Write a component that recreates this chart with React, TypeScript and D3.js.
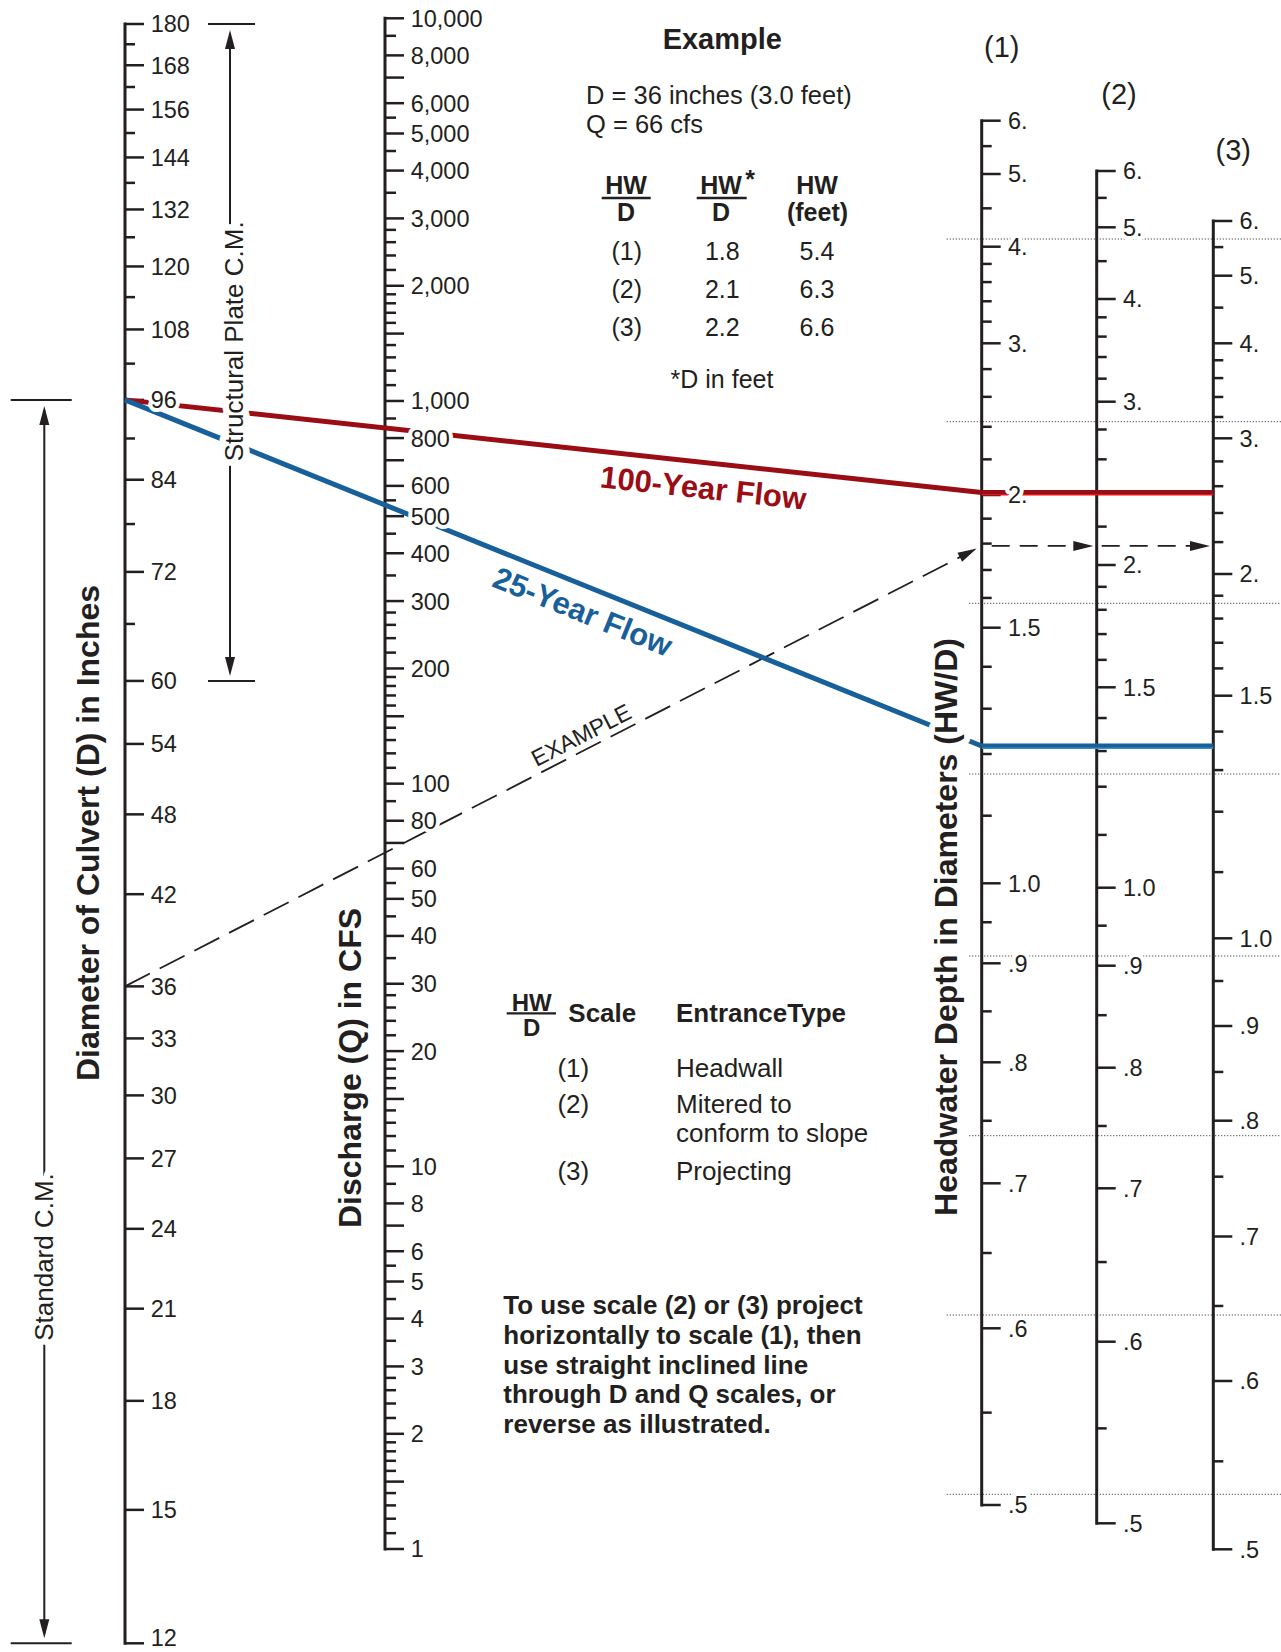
import React from "react";
import * as d3 from "d3";

// diameter of culvert (inches)
const diameterLabels = [180, 168, 156, 144, 132, 120, 108, 96, 84, 72, 60, 54, 48, 42, 36, 33, 30, 27, 24, 21, 18, 15, 12];
const diameterMinor = [174, 162, 150, 138, 126, 114, 102, 90, 78, 66];

// discharge (cfs)
const dischargeLabels = [10000, 8000, 6000, 5000, 4000, 3000, 2000, 1000, 800, 600, 500, 400, 300, 200, 100, 80, 60, 50, 40, 30, 20, 10, 8, 6, 5, 4, 3, 2, 1];
const dischargeLong = [7000, 1500, 700, 150, 70, 15, 7, 1.5];
const dischargeMinorSteps = [1.1, 1.2, 1.3, 1.4, 1.6, 1.7, 1.8, 1.9, 2.2, 2.4, 2.6, 2.8, 3.5, 4.5, 5.5, 9];
const decades = [1, 10, 100, 1000];

// headwater depth HW/D scales
const hwLabels = [6, 5, 4, 3, 2, 1.5, 1.0, 0.9, 0.8, 0.7, 0.6, 0.5];
const hwLabelText = ["6.", "5.", "4.", "3.", "2.", "1.5", "1.0", ".9", ".8", ".7", ".6", ".5"];
const hwMinor = [5.5, 4.5, 3.8, 3.6, 3.4, 3.2, 2.8, 2.6, 2.4, 2.2, 1.9, 1.8, 1.7, 1.6, 1.4, 1.3, 1.2, 1.1, 0.95, 0.85, 0.75, 0.65, 0.55];
const hwScaleNames = ["(1)", "(2)", "(3)"];

// design flows through D = 96 in
const flowNames = ["100-Year Flow", "25-Year Flow"];
const flowDiameter = 96;
const flowDischarge = [850, 535];
const flowColors = ["#9b0d14", "#17609a"];
const flowLight = ["#e0151d", "#3b8fd0"];

// worked example
const exampleD = 36;
const exampleQ = 66;
const exampleRows = ["(1)", "(2)", "(3)"];
const exampleHWD = ["1.8", "2.1", "2.2"];
const exampleHWfeet = ["5.4", "6.3", "6.6"];
const entranceRows = ["(1)", "(2)", "(3)"];
const entranceTypes = [["Headwall"], ["Mitered to", "conform to slope"], ["Projecting"]];
const instructions = [
  "To use scale (2) or (3) project",
  "horizontally to scale (1), then",
  "use straight inclined line",
  "through D and Q scales, or",
  "reverse as illustrated.",
];

// layout
const W = 1281, H = 1652;
const dX = 125, qX = 385;
const hwX = [981.7, 1096.7, 1213.3];
// calibration of the nomograph HW/D scales
const hwCalValues = [6, 5, 4, 3, 2, 1.5, 1.2, 1, 0.9, 0.8, 0.7, 0.6, 0.5];
const hwCalY = [
  [120.7, 174, 246.7, 343.3, 495, 627.7, 754, 883.3, 963.3, 1062.3, 1183.3, 1328.3, 1505],
  [171, 227.3, 299, 401.7, 565, 687.3, 786.7, 887.7, 965.7, 1067.7, 1188.3, 1341.7, 1523.3],
  [221, 275.7, 343.3, 438.3, 574, 695.7, 811.7, 938.3, 1026, 1120.7, 1236.5, 1381, 1549.3],
];
const guideY = [239, 421.7, 603.3, 774, 956, 1135.7, 1315, 1494.3];
const guideX0 = [946.7, 946.7, 969, 969, 969, 969, 946.7, 946.7];

const FONT = "'Liberation Sans', Arial, Helvetica, sans-serif";
const INK = "#231f20";
const TICK_FS = 23.5;

const yD = d3.scaleLog().domain([12, 180]).range([1643.3, 24]);
const yQ = d3.scaleLog().domain([1, 10000]).range([1549, 18.3]);
const yHW = hwCalY.map(r => d3.scaleLog().domain(hwCalValues).range(r));

const fmtQ = d3.format(",");

const arrowHead = (tx: number, ty: number, ux: number, uy: number, len = 18, hw = 5) => {
  const bx = tx - ux * len, by = ty - uy * len;
  return `M${tx},${ty}L${bx - uy * hw},${by + ux * hw}L${bx + uy * hw},${by - ux * hw}Z`;
};

// straight line through D and Q scales, extended to HW/D scale (1)
const turningLine = (d: number, q: number) => {
  const y0 = yD(d);
  const k = (yQ(q) - y0) / (qX - dX);
  return { y0, k, at: (x: number) => y0 + k * (x - dX) };
};

const halo = (w: number) => ({
  stroke: "#fff",
  strokeWidth: w,
  strokeLinejoin: "round" as const,
  style: { paintOrder: "stroke" as const },
});

// baseline for a label centred on a tick, kept inside the page
const labelY = (y: number) => Math.min(y + 0.36 * TICK_FS, H - 6);

const LineLabel = ({ text, line, bx, off, size, color }: any) => {
  const ang = Math.atan(line.k);
  const px = bx - Math.sin(ang) * off;
  const py = line.at(bx) + Math.cos(ang) * off;
  return (
    <text transform={`translate(${px},${py}) rotate(${(ang * 180) / Math.PI})`} textAnchor="middle"
      fontSize={size} fontWeight={700} fill={color} {...halo(6)}>{text}</text>
  );
};

export default function App() {
  const qMinor = decades.flatMap(dec => dischargeMinorSteps.map(s => s * dec));
  const flows = flowDischarge.map(q => turningLine(flowDiameter, q));
  const ex = turningLine(exampleD, exampleQ);

  // example arrow geometry
  const exTipX = hwX[0] - 5;
  const exTipY = ex.at(exTipX);
  const exLen = Math.hypot(exTipX - dX, exTipY - ex.y0);
  const ux = (exTipX - dX) / exLen, uy = (exTipY - ex.y0) / exLen;
  const exHW = ex.at(hwX[0]);
  const exAng = Math.atan(ex.k);

  const tick = (x: number, y: number, len: number, key: string, w = 2.5) => (
    <line key={key} x1={x} x2={x + len} y1={y} y2={y} stroke={INK} strokeWidth={w} />
  );

  return (
    <svg width={W} height={H} viewBox={`0 0 ${W} ${H}`}
      style={{ position: "absolute", left: 0, top: 0, background: "#fff", display: "block" }}
      fontFamily={FONT}>
      <rect width={W} height={H} fill="#fff" />

      {/* page guides */}
      {guideY.map((y, i) => (
        <line key={"g" + i} x1={guideX0[i]} x2={W} y1={y} y2={y} stroke="#555" strokeWidth={1} strokeDasharray="1.3 1.7" />
      ))}

      {/* diameter scale */}
      <line x1={dX} x2={dX} y1={yD(180)} y2={yD(12)} stroke={INK} strokeWidth={3} strokeLinecap="square" />
      {diameterLabels.map(v => tick(dX, yD(v), 19, "dl" + v))}
      {diameterMinor.map(v => tick(dX, yD(v), 10, "dm" + v))}

      {/* discharge scale */}
      <line x1={qX} x2={qX} y1={yQ(10000)} y2={yQ(1)} stroke={INK} strokeWidth={3} strokeLinecap="square" />
      {dischargeLabels.map(v => tick(qX, yQ(v), 19, "ql" + v))}
      {dischargeLong.map(v => tick(qX, yQ(v), 19, "qg" + v))}
      {qMinor.map(v => tick(qX, yQ(v), 11, "qm" + v))}

      {/* HW/D scales */}
      {hwX.map((x, i) => (
        <g key={"hw" + i}>
          <line x1={x} x2={x} y1={yHW[i](6)} y2={yHW[i](0.5)} stroke={INK} strokeWidth={3} strokeLinecap="square" />
          {hwLabels.map(v => tick(x, yHW[i](v), 19, "hl" + v))}
          {hwMinor.map(v => tick(x, yHW[i](v), 10, "hm" + v))}
        </g>
      ))}

      {/* brackets: structural plate and standard C.M. */}
      <g stroke={INK} strokeWidth={2}>
        <line x1={208} x2={255} y1={yD(180)} y2={yD(180)} />
        <line x1={208} x2={255} y1={yD(60)} y2={yD(60)} />
        <line x1={230} x2={230} y1={yD(180) + 10} y2={yD(60) - 10} />
        <line x1={10.7} x2={71.7} y1={yD(96)} y2={yD(96)} />
        <line x1={10.7} x2={71.7} y1={yD(12)} y2={yD(12)} />
        <line x1={44.3} x2={44.3} y1={yD(96) + 10} y2={yD(12) - 10} />
      </g>
      <path d={arrowHead(230, yD(180) + 6, 0, -1, 19, 5)} fill={INK} />
      <path d={arrowHead(230, yD(60) - 5, 0, 1, 19, 5)} fill={INK} />
      <path d={arrowHead(44.3, yD(96) + 6, 0, -1, 19, 5)} fill={INK} />
      <path d={arrowHead(44.3, yD(12) - 5, 0, 1, 19, 5)} fill={INK} />

      {/* example */}
      <line x1={dX} y1={ex.y0} x2={exTipX - ux * 16} y2={exTipY - uy * 16} stroke={INK} strokeWidth={1.8} strokeDasharray="28 11" />
      <path d={arrowHead(exTipX, exTipY, ux, uy, 19, 5)} fill={INK} />
      <line x1={hwX[0] + 10} x2={hwX[1] - 18} y1={exHW} y2={exHW} stroke={INK} strokeWidth={1.8} strokeDasharray="18 10" />
      <path d={arrowHead(hwX[1] - 3.4, exHW, 1, 0, 20, 5)} fill={INK} />
      <line x1={hwX[1] + 5} x2={hwX[2] - 18} y1={exHW} y2={exHW} stroke={INK} strokeWidth={1.8} strokeDasharray="18 10" />
      <path d={arrowHead(hwX[2] - 3.3, exHW, 1, 0, 20, 5)} fill={INK} />

      {/* design flows */}
      {flows.map((f, i) => {
        const yEnd = f.at(hwX[0]);
        return (
          <g key={"f" + i}>
            <line x1={dX} y1={f.y0} x2={hwX[0]} y2={yEnd} stroke={flowColors[i]} strokeWidth={5} />
            <line x1={hwX[0]} x2={hwX[2]} y1={yEnd + 1.5} y2={yEnd + 1.5} stroke={flowLight[i]} strokeWidth={3} />
            <line x1={hwX[0]} x2={hwX[2]} y1={yEnd - 0.5} y2={yEnd - 0.5} stroke={flowColors[i]} strokeWidth={4} />
          </g>
        );
      })}

      {/* tick labels */}
      <g fontSize={TICK_FS} fill={INK} {...halo(8)}>
        {diameterLabels.map(v => (
          <text key={"dt" + v} x={dX + 25.7} y={labelY(yD(v))}>{v}</text>
        ))}
        {dischargeLabels.map(v => (
          <text key={"qt" + v} x={qX + 25.7} y={labelY(yQ(v))}>{fmtQ(v)}</text>
        ))}
        {hwX.map((x, i) =>
          hwLabels.map((v, j) => (
            <text key={"ht" + i + j} x={x + 26.3} y={labelY(yHW[i](v))}>{hwLabelText[j]}</text>
          ))
        )}
      </g>

      {/* scale names */}
      {hwScaleNames.map((s, i) => (
        <text key={"sn" + i} x={[1001.7, 1119, 1233.3][i]} y={[57, 104, 160][i]} textAnchor="middle" fontSize={29} fill={INK}>{s}</text>
      ))}

      {/* line labels */}
      <LineLabel text={flowNames[0]} line={flows[0]} bx={706} off={36} size={31} color={flowColors[0]} />
      <LineLabel text={flowNames[1]} line={flows[1]} bx={592} off={35.5} size={31} color={flowColors[1]} />
      <text transform={`translate(${588 + Math.sin(exAng) * 7},${ex.at(588) - Math.cos(exAng) * 7}) rotate(${(exAng * 180) / Math.PI})`}
        textAnchor="middle" fontSize={23} fill={INK}>EXAMPLE</text>

      {/* rotated titles */}
      <g fill={INK} textAnchor="middle">
        <text transform="translate(99,833) rotate(-90)" fontSize={32} fontWeight={700} {...halo(12)}>Diameter of Culvert (D) in Inches</text>
        <text transform="translate(361,1068) rotate(-90)" fontSize={32} fontWeight={700} {...halo(12)}>Discharge (Q) in CFS</text>
        <text transform="translate(957,927) rotate(-90)" fontSize={32} fontWeight={700} {...halo(12)}>Headwater Depth in Diameters (HW/D)</text>
        <text transform="translate(243,341.3) rotate(-90)" fontSize={26} {...halo(13)}>Structural Plate C.M.</text>
        <text transform="translate(53,1257) rotate(-90)" fontSize={26} {...halo(13)}>Standard C.M.</text>
      </g>

      {/* example block */}
      <g fill={INK}>
        <text x={722.3} y={49.3} textAnchor="middle" fontSize={29} fontWeight={700}>Example</text>
        <text x={586} y={104} fontSize={25.5}>{`D = ${exampleD} inches (${(exampleD / 12).toFixed(1)} feet)`}</text>
        <text x={586} y={133} fontSize={25.5}>{`Q = ${exampleQ} cfs`}</text>
        <g fontSize={25} fontWeight={700} textAnchor="middle">
          <text x={626} y={194.3}>HW</text>
          <text x={626} y={220.7}>D</text>
          <text x={721} y={194.3}>HW</text>
          <text x={721} y={220.7}>D</text>
          <text x={817} y={194.3}>HW</text>
          <text x={817.5} y={220.7}>(feet)</text>
        </g>
        <text x={750} y={188} textAnchor="middle" fontSize={25} fontWeight={700}>*</text>
        <line x1={601.7} x2={650.7} y1={198} y2={198} stroke={INK} strokeWidth={2.5} />
        <line x1={696.7} x2={746.7} y1={198} y2={198} stroke={INK} strokeWidth={2.5} />
        <g fontSize={25} textAnchor="middle">
          {exampleRows.map((r, i) => (
            <g key={"er" + i}>
              <text x={626.7} y={260 + i * 38}>{r}</text>
              <text x={722.3} y={260 + i * 38}>{exampleHWD[i]}</text>
              <text x={817} y={260 + i * 38}>{exampleHWfeet[i]}</text>
            </g>
          ))}
        </g>
        <text x={722} y={388.3} textAnchor="middle" fontSize={25}>*D in feet</text>
      </g>

      {/* entrance type legend */}
      <g fill={INK}>
        <text x={531.7} y={1010.5} textAnchor="middle" fontSize={24} fontWeight={700}>HW</text>
        <line x1={506.7} x2={556} y1={1013.3} y2={1013.3} stroke={INK} strokeWidth={2.3} />
        <text x={531.7} y={1035.5} textAnchor="middle" fontSize={24} fontWeight={700}>D</text>
        <text x={568.3} y={1021.7} fontSize={26} fontWeight={700}>Scale</text>
        <text x={676} y={1021.7} fontSize={26} fontWeight={700}>EntranceType</text>
        {entranceRows.map((r, i) => {
          const y = [1076.7, 1113.3, 1180][i];
          return (
            <g key={"en" + i} fontSize={26}>
              <text x={573.3} y={y} textAnchor="middle">{r}</text>
              {entranceTypes[i].map((t, j) => (
                <text key={j} x={676} y={y + j * 28.4}>{t}</text>
              ))}
            </g>
          );
        })}
        <g fontSize={26} fontWeight={700}>
          {instructions.map((t, i) => (
            <text key={"in" + i} x={503.3} y={1314 + i * 29.8}>{t}</text>
          ))}
        </g>
      </g>
    </svg>
  );
}
